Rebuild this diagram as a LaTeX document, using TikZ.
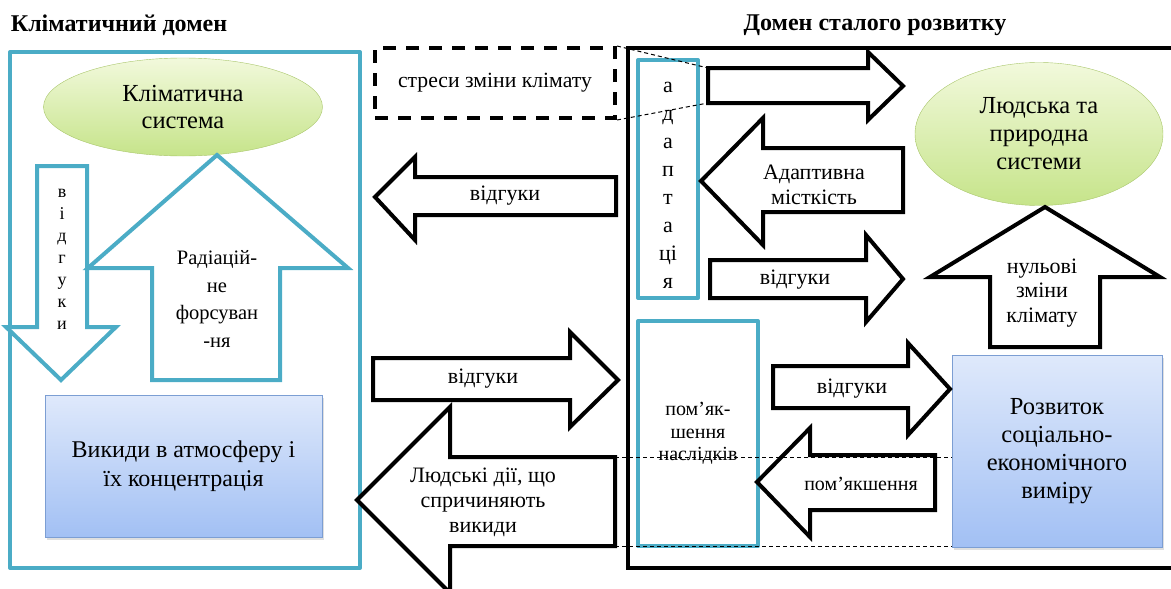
\documentclass[tikz,border=0pt]{standalone}
\usepackage{fontspec}
\setmainfont{Liberation Serif}
\usetikzlibrary{shapes.geometric,shadows}

\definecolor{domcyan}{HTML}{4BACC6}
\definecolor{greentop}{HTML}{F2F9DC}
\definecolor{greenbot}{HTML}{C6E48A}
\definecolor{greenline}{HTML}{A9C66B}
\definecolor{bluetop}{HTML}{DFE9FB}
\definecolor{bluebot}{HTML}{A2C0F4}
\definecolor{blueline}{HTML}{7C9ED3}

\tikzset{
  txt/.style={align=center,font=\fontsize{22}{28}\selectfont},
  bigtxt/.style={align=center,font=\fontsize{24.5}{28}\selectfont},
  title/.style={font=\fontsize{24}{28}\selectfont\bfseries},
  cyanbox/.style={draw=domcyan,line width=4pt,line join=round},
  blackarrow/.style={draw=black,line width=4pt,fill=white},
  cyanarrow/.style={draw=domcyan,line width=4pt,fill=white},
  greenell/.style={ellipse,draw=greenline,top color=greentop,bottom color=greenbot,bigtxt},
  bluebox/.style={draw=blueline,top color=bluetop,bottom color=bluebot,bigtxt,
    drop shadow={opacity=0.25,shadow xshift=2pt,shadow yshift=-3pt}},
  stressbox/.style={draw,line width=4pt,dash pattern=on 13pt off 10pt,txt},
  thindash/.style={line width=1pt,dash pattern=on 4pt off 3pt}
}

\begin{document}
\begin{tikzpicture}[x=1pt,y=-1pt]
  \useasboundingbox (0,0) rectangle (1171,589);

  % titles
  \node[title] (t1) at (119,25) {Кліматичний домен};
  \node[title] (t2) at (875,25) {Домен сталого розвитку};

  % climate domain
  \draw[cyanbox] (10,52) rectangle (360,568);
  \node[greenell,minimum width=279,minimum height=98,font=\fontsize{24.5}{27}\selectfont] (climsys) at (183,107) {Кліматична\\система};
  \draw[cyanarrow] (37,166) -- (87,166) -- (87,327) -- (116,327) -- (61,380)
    -- (6,327) -- (37,327) -- cycle;
  \node[align=center,font=\fontsize{18}{22}\selectfont] (vidg1) at (62,259) {в\\і\\д\\г\\у\\к\\и};
  \draw[cyanarrow] (217,155) -- (348,268) -- (280,268) -- (280,380) -- (152,380)
    -- (152,268) -- (88,268) -- cycle;
  \node[txt,font=\fontsize{20.5}{27.7}\selectfont] (forc) at (217,299) {Радіацій-\\не\\форсуван\\-ня};
  \node[bluebox,minimum width=277,minimum height=142,font=\fontsize{24}{29}\selectfont] (emis) at (183.5,466)
    {Викиди в атмосферу і\\їх концентрація};

  % sustainable development domain
  \draw[line width=4pt] (1180,48) -- (628,48) -- (628,568) -- (1180,568);
  \node[cyanbox,minimum width=60,minimum height=238] (adapt) at (668,179) {};
  \node[txt] (adtxt) at (668,185) {а\\д\\а\\п\\т\\а\\ці\\я};
  \node[cyanbox,minimum width=120,minimum height=225,txt,font=\fontsize{20}{22.5}\selectfont] (mitig) at (698,433.5)
    {пом’як-\\шення\\наслідків};
  \node[greenell,minimum width=248,minimum height=143] (humsys) at (1039,134)
    {Людська та\\природна\\системи};
  \node[bluebox,minimum width=210,minimum height=192] (socio) at (1057,451)
    {Розвиток\\соціально-\\економічного\\виміру};

  % stresses
  \node[stressbox,minimum width=240,minimum height=70,font=\fontsize{21.7}{24}\selectfont] (stress) at (495,83) {стреси зміни клімату};

  % block arrows, middle
  \draw[blackarrow] (616,177) -- (415,177) -- (415,157) -- (375,197) -- (415,240)
    -- (415,215) -- (616,215) -- cycle;
  \node[txt] (a1) at (505,196) {відгуки};
  \draw[blackarrow] (373,358) -- (570,358) -- (570,332) -- (618,380) -- (570,427)
    -- (570,400) -- (373,400) -- cycle;
  \node[txt] (a2) at (483,379) {відгуки};
  \coordinate (hum-ne) at (615,457);
  \coordinate (hum-se) at (615,546);
  \draw[blackarrow] (hum-ne) -- (450,457) -- (450,407) -- (357,500) -- (450,593)
    -- (450,546) -- (hum-se) -- cycle;
  \node[txt,font=\fontsize{22}{25}\selectfont] (a3) at (483,502) {Людські дії, що\\спричиняють\\викиди};

  % block arrows, right
  \coordinate (str-nw) at (708,68);
  \coordinate (str-sw) at (708,103);
  \draw[blackarrow] (str-nw) -- (868,68) -- (868,52) -- (903,86) -- (868,120)
    -- (868,103) -- (str-sw) -- cycle;
  \draw[blackarrow] (903,148) -- (763,148) -- (763,118) -- (701,181) -- (763,245)
    -- (763,212) -- (903,212) -- cycle;
  \node[txt,font=\fontsize{22}{24.5}\selectfont] (a4) at (814,185) {Адаптивна\\місткість};
  \draw[blackarrow] (710,260) -- (866,260) -- (866,235) -- (903,279) -- (866,322)
    -- (866,298) -- (710,298) -- cycle;
  \node[txt] (a5) at (795,280) {відгуки};
  \draw[blackarrow] (1045,207) -- (1160,277) -- (1100,277) -- (1100,347) -- (990,347)
    -- (990,277) -- (930,277) -- cycle;
  \node[txt,font=\fontsize{22}{24.5}\selectfont] (a6) at (1042,293) {нульові\\зміни\\клімату};
  \draw[blackarrow] (773,366) -- (908,366) -- (908,343) -- (950,389) -- (908,435)
    -- (908,408) -- (773,408) -- cycle;
  \node[txt] (a7) at (852,389) {відгуки};
  \draw[blackarrow] (935,455) -- (810,455) -- (810,428) -- (757,482) -- (810,537)
    -- (810,510) -- (935,510) -- cycle;
  \node[txt,font=\fontsize{20}{24}\selectfont] (a8) at (861,484) {пом’якшення};

  % dashed links
  \draw[thindash] (stress.north east) -- (str-nw);
  \draw[thindash] (stress.south east) -- (str-sw);
  \draw[thindash] (hum-ne) -- (hum-ne -| socio.west);
  \draw[thindash] (hum-se) -- (hum-se -| socio.west);
\end{tikzpicture}
\end{document}
